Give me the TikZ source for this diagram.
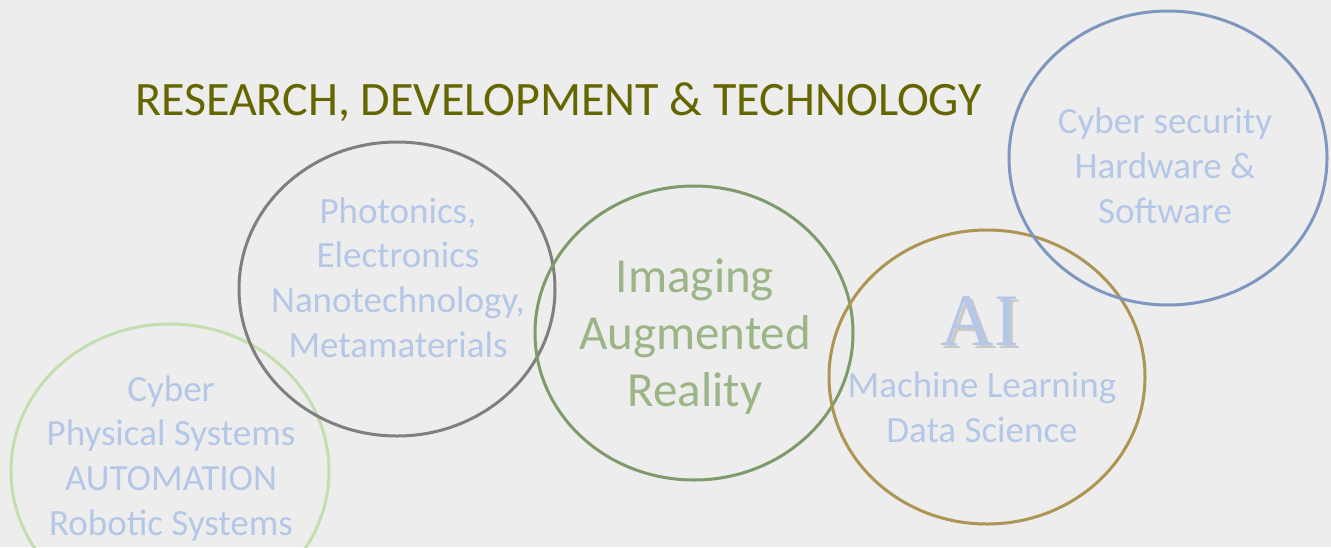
\documentclass[tikz,border=0pt]{standalone}
\usepackage{fontspec}
\setmainfont{Carlito}
\newfontfamily\serifai{Liberation Serif}
\definecolor{bgc}{HTML}{EDEDED}
\definecolor{titlec}{HTML}{666600}
\definecolor{lbtext}{HTML}{B4C7E7}
\definecolor{imgtext}{HTML}{9BB587}
\definecolor{grayc}{HTML}{7F7F7F}
\definecolor{dgreenc}{HTML}{7F9A6B}
\definecolor{goldc}{HTML}{AD9554}
\definecolor{bluec}{HTML}{7F97C0}
\definecolor{lgreenc}{HTML}{C5DEB0}
\definecolor{shadowc}{HTML}{C9C9C9}
\tikzset{
  ring/.style={draw, line width=3pt},
  bodytext/.style={align=center, text=lbtext, font=\fontsize{37}{44.6}\selectfont, inner sep=0pt, anchor=base},
}
\begin{document}
\begin{tikzpicture}[x=1pt,y=-1pt]
\fill[bgc] (0,0) rectangle (1331,547);
\useasboundingbox (0,0) rectangle (1331,547);
% circles
\draw[ring, lgreenc] (170,471) ellipse [x radius=159, y radius=147];
\draw[ring, grayc] (397,289) ellipse [x radius=158, y radius=147];
\draw[ring, dgreenc] (694,333) ellipse [x radius=159, y radius=147];
\draw[ring, goldc] (987,377) ellipse [x radius=158, y radius=147];
\draw[ring, bluec] (1168,158) ellipse [x radius=159, y radius=147];
% title
\node[anchor=base west, inner sep=0pt, text=titlec, font=\fontsize{48}{56}\selectfont] (title) at (135,115) {RESEARCH, DEVELOPMENT \& TECHNOLOGY};
% texts (base anchor = baseline of the last line)
\node[bodytext] (cps) at (171,535) {Cyber\\Physical Systems\\AUTOMATION\\Robotic Systems};
\node[bodytext] (phot) at (398,357) {Photonics,\\Electronics\\Nanotechnology,\\Metamaterials};
\node[bodytext, text=imgtext, font=\fontsize{49}{57}\selectfont] (img) at (695,406) {Imaging\\Augmented\\Reality};
\node[anchor=base, inner sep=0pt, text=shadowc, font=\serifai\fontsize{74}{80}\selectfont] (aishadow) at (983,348) {AI};
\node[anchor=base, inner sep=0pt, text=lbtext, font=\serifai\fontsize{74}{80}\selectfont] (ai) at (980,345) {AI};
\node[bodytext] (ml) at (982,442) {Machine Learning\\Data Science};
\node[bodytext] (cyb) at (1165,223) {Cyber security\\Hardware \&\\Software};
\end{tikzpicture}
\end{document}
